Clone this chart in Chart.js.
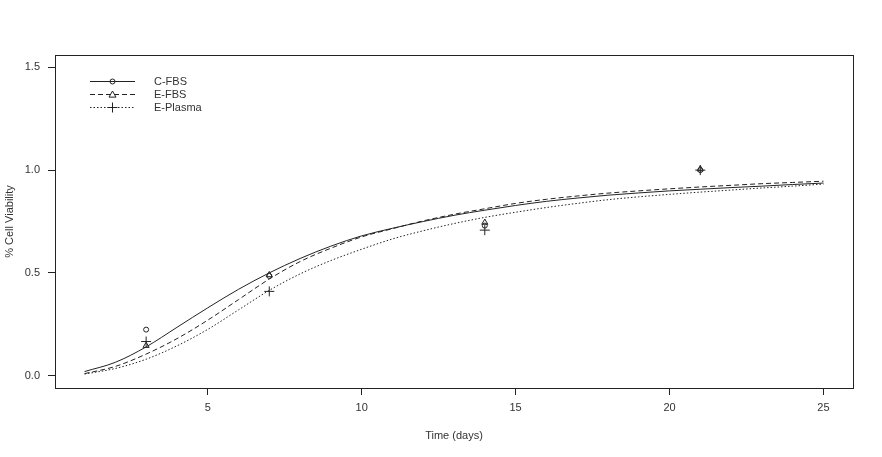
<!DOCTYPE html>
<html>
<head>
<meta charset="utf-8">
<script src="https://cdn.jsdelivr.net/npm/chart.js@4/dist/chart.umd.min.js"></script>
<style>
  html, body { margin: 0; padding: 0; background: #fff; }
  #wrap { width: 882px; height: 457px; }
</style>
</head>
<body>
<div id="wrap"><canvas id="viability"></canvas></div>
<script>
// fitted curves at each day
const days = [1, 2, 3, 4, 5, 6, 7, 8, 9, 10, 11, 12, 13, 14, 15, 16, 17, 18, 19, 20, 21, 22, 23, 24, 25];
const cFbsFit = [0.02, 0.065, 0.14, 0.235, 0.33, 0.42, 0.50, 0.57, 0.63, 0.68, 0.717, 0.75, 0.78, 0.805, 0.828, 0.848, 0.864, 0.878, 0.889, 0.899, 0.907, 0.915, 0.922, 0.93, 0.937];
const eFbsFit = [0.01, 0.045, 0.105, 0.18, 0.27, 0.37, 0.47, 0.555, 0.62, 0.675, 0.715, 0.753, 0.785, 0.812, 0.838, 0.858, 0.874, 0.888, 0.899, 0.909, 0.918, 0.926, 0.934, 0.94, 0.946];
const ePlasmaFit = [0.008, 0.035, 0.08, 0.145, 0.225, 0.32, 0.415, 0.495, 0.56, 0.615, 0.665, 0.705, 0.74, 0.77, 0.795, 0.818, 0.838, 0.856, 0.87, 0.882, 0.893, 0.903, 0.913, 0.922, 0.932];

// measured points
const sampleDays = [3, 7, 14, 21];
const cFbsObs = [0.224, 0.485, 0.73, 1.0];
const eFbsObs = [0.146, 0.49, 0.745, 1.005];
const ePlasmaObs = [0.166, 0.41, 0.708, 1.0];

const seriesNames = ["C-FBS", "E-FBS", "E-Plasma"];
const xTicks = [5, 10, 15, 20, 25];
const yTicks = [0, 0.5, 1.0, 1.5];

const ink = "#222";
const textCol = "#333";
const dashes = [[], [5, 3], [1.5, 2]];
const markers = ["circle", "triangle", "cross"];
const markerSize = [2.5, 3.5, 5];

const toXY = (xs, ys) => xs.map((x, i) => ({ x: x, y: ys[i] }));

const fits = [cFbsFit, eFbsFit, ePlasmaFit];
const obs = [cFbsObs, eFbsObs, ePlasmaObs];

const datasets = [];
fits.forEach((f, i) => {
  datasets.push({
    label: seriesNames[i],
    data: toXY(days, f),
    borderColor: ink,
    borderWidth: 1,
    borderDash: dashes[i],
    pointRadius: 0,
    cubicInterpolationMode: "monotone",
    fill: false
  });
});
obs.forEach((o, i) => {
  datasets.push({
    label: seriesNames[i] + " obs",
    data: toXY(sampleDays, o),
    showLine: false,
    pointStyle: markers[i],
    pointRadius: markerSize[i],
    pointBorderColor: ink,
    pointBackgroundColor: "rgba(0,0,0,0)",
    pointBorderWidth: 1
  });
});

// draw one R-style marker
function drawMarker(ctx, style, x, y, r) {
  ctx.beginPath();
  if (style === "circle") {
    ctx.arc(x, y, r, 0, Math.PI * 2);
  } else if (style === "triangle") {
    ctx.moveTo(x, y - r);
    ctx.lineTo(x + r, y + r * 0.75);
    ctx.lineTo(x - r, y + r * 0.75);
    ctx.closePath();
  } else {
    ctx.moveTo(x - r, y); ctx.lineTo(x + r, y);
    ctx.moveTo(x, y - r); ctx.lineTo(x, y + r);
  }
  ctx.stroke();
}

const boxAndLegend = {
  id: "boxAndLegend",
  afterDraw(chart) {
    const { ctx, chartArea: a } = chart;
    ctx.save();
    ctx.strokeStyle = ink;
    ctx.lineWidth = 1;
    ctx.strokeRect(Math.round(a.left) + 0.5, Math.round(a.top) + 0.5,
      Math.round(a.right - a.left), Math.round(a.bottom - a.top));

    // legend: line + marker, then label
    const rows = [81, 94, 107];
    ctx.font = "11px 'Liberation Sans', Arial, sans-serif";
    ctx.textBaseline = "middle";
    ctx.fillStyle = textCol;
    seriesNames.forEach((name, i) => {
      const y = rows[i] + 0.5;
      ctx.setLineDash(dashes[i]);
      ctx.beginPath();
      ctx.moveTo(90, y);
      ctx.lineTo(135, y);
      ctx.stroke();
      ctx.setLineDash([]);
      drawMarker(ctx, markers[i], 112.5, y, markerSize[i]);
      ctx.fillText(name, 154, y);
    });
    ctx.restore();
  }
};

new Chart("viability", {
  type: "line",
  data: { datasets: datasets },
  plugins: [boxAndLegend],
  options: {
    responsive: true,
    maintainAspectRatio: false,
    animation: false,
    layout: { padding: { top: 55, right: 29, left: 0, bottom: 0 } },
    plugins: {
      legend: { display: false },
      tooltip: { enabled: false }
    },
    scales: {
      x: {
        type: "linear",
        min: 0.04,
        max: 25.96,
        afterBuildTicks: s => { s.ticks = xTicks.map(v => ({ value: v })); },
        afterFit: s => { s.height = 69; },
        grid: { display: true, drawOnChartArea: false, drawTicks: true, tickLength: 7, color: ink },
        border: { display: false },
        ticks: {
          color: textCol,
          padding: 6,
          maxRotation: 0,
          font: { family: "'Liberation Sans', Arial, sans-serif", size: 11 },
          callback: v => String(v)
        },
        title: {
          display: true,
          text: "Time (days)",
          color: textCol,
          padding: { top: 0, bottom: 14 },
          font: { family: "'Liberation Sans', Arial, sans-serif", size: 11 }
        }
      },
      y: {
        min: -0.06,
        max: 1.56,
        afterBuildTicks: s => { s.ticks = yTicks.map(v => ({ value: v })); },
        afterFit: s => { s.width = 55; },
        grid: { display: true, drawOnChartArea: false, drawTicks: true, tickLength: 7, color: ink },
        border: { display: false },
        ticks: {
          color: textCol,
          padding: 8,
          font: { family: "'Liberation Sans', Arial, sans-serif", size: 11 },
          callback: v => Number(v).toFixed(1)
        },
        title: {
          display: true,
          text: "% Cell Viability",
          color: textCol,
          padding: { top: 3, bottom: 0 },
          font: { family: "'Liberation Sans', Arial, sans-serif", size: 11 }
        }
      }
    }
  }
});
</script>
</body>
</html>
